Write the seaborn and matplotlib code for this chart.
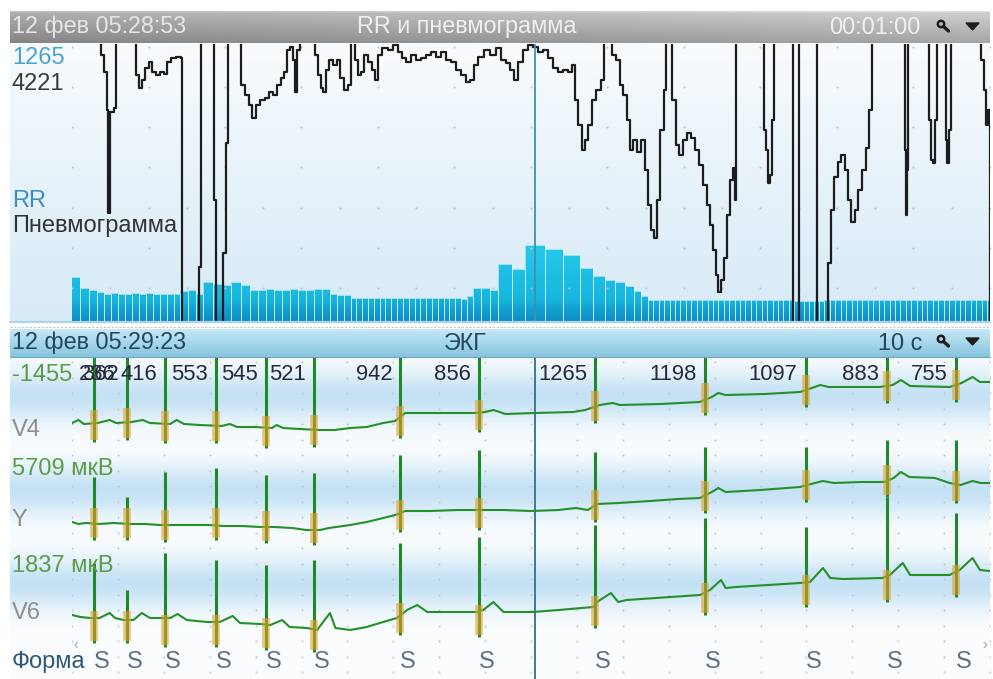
import numpy as np
import matplotlib
matplotlib.use("Agg")
import matplotlib.pyplot as plt
import matplotlib.transforms as mtransforms
from matplotlib.colors import LinearSegmentedColormap, to_rgb
from matplotlib.patches import Circle, Polygon, PathPatch
from matplotlib.path import Path
import seaborn as sns

sns.set_theme(style="white")
plt.rcParams["font.family"] = ["Liberation Sans", "DejaVu Sans"]

# ---------------------------------------------------------------- data
# RR tachogram of the one-minute window, ms (each bar is as wide as its interval)
TACHO_START_S = -0.18
tacho_rr_ms = [
    725, 540, 520, 480,
    452, 458, 455, 450, 457, 455, 460, 452, 455, 456, 455,
    506, 510, 455, 641, 620,
    600, 640, 600,
    523, 520, 525, 523, 522, 526, 523, 520, 524, 524,
    445, 440, 435,
    380, 378, 382, 380, 376, 380, 384, 380, 378, 380,
    381, 379, 380, 377, 383, 380, 379, 381, 383,
    362, 416,
    553, 545, 521, 942, 856, 1265, 1198, 1097, 883, 755, 675, 641, 573, 506, 422,
    354, 352, 356, 354, 355, 353, 354, 356, 352, 354, 355, 354, 353, 356,
    354, 352, 355, 354, 356, 353, 354, 355, 352, 354, 356, 354, 353,
    332, 328, 330, 331, 329, 330,
    354, 355, 353, 354, 356, 352, 354, 355, 354, 353, 356, 354, 352, 355,
    354, 356, 353, 354, 355, 352, 354, 356, 354, 353, 355, 354, 352, 356,
    354, 355, 353, 354,
]

# pneumogram, sampled at PNEUMO_HZ (sample index, amplitude in a.u.)
PNEUMO_HZ = 15.3
pneumo_idx = [
    0, 27, 29, 32, 35, 36, 38, 42, 44, 64, 67, 70, 73, 77, 80, 84, 88, 92, 95,
    99, 104, 109, 110, 127, 129, 142, 144, 151, 154, 156, 169, 173, 177, 180,
    184, 188, 193, 197, 201, 205, 209, 212, 215, 218, 221, 223, 225, 228, 243,
    246, 249, 251, 254, 257, 261, 265, 268, 272, 276, 279, 283, 286, 289, 292,
    296, 300, 303, 306, 310, 316, 321, 326, 330, 334, 339, 344, 349, 354, 359,
    364, 369, 374, 379, 384, 389, 394, 398, 402, 406, 412, 418, 424, 429, 434,
    438, 442, 446, 451, 456, 461, 466, 471, 476, 481, 486, 491, 496, 500, 503,
    506, 510, 513, 516, 520, 524, 529, 532, 540, 544, 548, 551, 555, 558, 561,
    565, 569, 573, 576, 579, 582, 585, 588, 592, 594, 600, 604, 607, 611, 615,
    619, 623, 627, 631, 635, 638, 641, 644, 646, 649, 652, 655, 658, 661, 663,
    664, 692, 694, 696, 698, 700, 702, 721, 727, 745, 756, 759, 762, 766, 769,
    773, 776, 779, 783, 786, 790, 794, 797, 800, 833, 834, 835, 836, 857, 859,
    861, 863, 865, 874, 875, 877, 879, 909, 912, 914, 916, 918,
]
pneumo_val = [
    300, 300, 266, 249, 211, 108, 209, 213, 300, 246, 233, 241, 253, 259, 249,
    246, 249, 247, 259, 263, 264, 263, -5, 54, 300, 121, -5, 68, 178, 300, 236,
    226, 216, 203, 216, 221, 223, 229, 226, 236, 243, 249, 271, 274, 261, 229,
    271, 300, 266, 246, 233, 229, 251, 261, 256, 261, 243, 231, 236, 300, 261,
    246, 249, 266, 259, 251, 241, 266, 273, 271, 276, 269, 263, 259, 266, 261,
    263, 266, 269, 264, 269, 261, 259, 251, 246, 239, 241, 256, 264, 271, 266,
    273, 261, 258, 251, 241, 259, 271, 276, 274, 269, 271, 263, 253, 249, 251,
    249, 256, 221, 196, 171, 181, 196, 221, 231, 241, 300, 266, 261, 236, 226,
    201, 171, 181, 169, 181, 151, 116, 91, 83, 121, 191, 231, 300, 221, 176,
    166, 181, 188, 183, 171, 156, 136, 116, 96, 71, 46, 29, 41, 63, 106, 141,
    153, 121, 300, 191, 171, 138, 146, 201, 300, -5, 300, -5, 58, 111, 144, 159,
    166, 151, 121, 99, 111, 131, 151, 173, 211, 300, 171, 106, 151, 300, 201,
    161, 158, 201, 300, 181, 158, 191, 300, 261, 231, 196, 211, -5,
]

# ECG: RR intervals (ms) that place each beat in the 10 s window
ecg_rr_ms = [236, 362, 416, 553, 545, 521, 942, 856, 1265, 1198, 1097, 883, 755]

# lead baselines (time s, amplitude a.u.)
v4_t = [0.00, 0.07, 0.13, 0.28, 0.41, 0.48, 0.65, 0.77, 0.85, 1.07, 1.14, 1.22,
        1.39, 1.63, 1.72, 1.80, 1.99, 2.18, 2.23, 2.30, 2.48, 2.70, 2.86, 3.03,
        3.21, 3.39, 3.52, 3.63, 4.01, 4.39, 4.50, 4.59, 4.66, 4.72, 5.04, 5.46,
        5.59, 5.75, 5.89, 5.97, 6.41, 6.84, 6.97, 7.04, 7.12, 7.55, 7.93, 8.06,
        8.15, 8.24, 8.80, 8.94, 9.03, 9.13, 9.56, 9.69, 9.81, 9.89, 10.0]
v4_v = [2, 5, 1, 2, 5, 2, 3, 5, 2, 1, 5, 1,
        0, -1, 1, -2, -2, -3, 0, -3, -4, -5, -5, -3,
        -2, 2, 4, 12, 12, 12, 13, 15, 13, 11, 12, 13,
        15, 20, 22, 20, 21, 23, 28, 32, 30, 31, 33, 37,
        40, 38, 38, 40, 45, 39, 38, 42, 48, 43, 43]

y_t = [0.00, 0.07, 0.15, 0.30, 0.45, 0.65, 0.80, 0.95, 1.10, 1.30, 1.50, 1.65,
       1.85, 2.05, 2.20, 2.40, 2.55, 2.70, 2.80, 3.03, 3.21, 3.39, 3.52, 3.63,
       3.90, 4.20, 4.43, 4.70, 5.00, 5.30, 5.49, 5.62, 5.72, 5.95, 6.30, 6.60,
       6.84, 6.97, 7.04, 7.12, 7.50, 7.93, 8.05, 8.18, 8.30, 8.60, 8.85, 8.95,
       9.03, 9.12, 9.40, 9.56, 9.68, 9.81, 9.90, 10.0]
y_v = [0, -2, -1, -2, -1, -2, -2, -3, -3, -3, -3, -4,
       -4, -5, -5, -6, -8, -8, -6, -3, 0, 4, 7, 11,
       11, 12, 12, 12, 11, 12, 14, 12, 18, 19, 21, 23,
       24, 30, 34, 30, 32, 35, 38, 41, 39, 40, 40, 44,
       50, 45, 44, 39, 37, 41, 39, 39]

v6_t = [0.00, 0.09, 0.20, 0.30, 0.41, 0.47, 0.56, 0.67, 0.76, 0.85, 0.96, 1.07,
        1.15, 1.25, 1.47, 1.61, 1.75, 1.83, 2.05, 2.16, 2.29, 2.37, 2.56, 2.67,
        2.81, 2.87, 3.03, 3.21, 3.39, 3.54, 3.65, 3.76, 3.87, 4.12, 4.41, 4.48,
        4.59, 4.70, 5.02, 5.30, 5.68, 5.72, 5.87, 5.95, 6.04, 6.84, 6.95, 7.07,
        7.12, 7.23, 7.93, 8.04, 8.18, 8.26, 8.40, 8.83, 8.91, 9.05, 9.13, 9.56,
        9.67, 9.81, 9.89, 10.0]
v6_v = [2, 0, -1, -1, 4, -1, -3, -3, 4, -1, -1, -1,
        3, -3, -5, -5, 1, -6, -7, -8, -3, -10, -11, -13,
        4, -11, -13, -10, -5, -1, 7, 12, 5, 5, 5, 7,
        15, 5, 5, 7, 10, 15, 24, 15, 17, 22, 27, 37,
        29, 30, 34, 35, 49, 39, 38, 39, 42, 54, 42, 42,
        47, 59, 47, 46]

# QRS extremes per beat (a.u. relative to each lead's zero)
v4_top = [85, 82, 86, 84, 83, 84, 90, 92, 95, 100, 100, 105, 105]
v4_bottom = [-17, -15, -18, -18, -23, -22, -13, -7, 2, 10, 18, 22, 23]
y_top = [45, 25, 50, 54, 47, 49, 67, 72, 70, 75, 75, 82, 82]
y_bottom = [-18, -18, -20, -18, -21, -23, -10, -8, 0, 9, 20, 25, 19]
v6_top = [54, 27, 64, 57, 52, 57, 74, 80, 92, 99, 90, 120, 104]
v6_bottom = [-26, -26, -30, -30, -33, -35, -18, -20, -11, 2, 10, 15, 20]

beat_forms = ["S"] * len(ecg_rr_ms)

# ---------------------------------------------------------------- layout
W, H = 993, 679
fig = plt.figure(figsize=(W / 100, H / 100), dpi=100)
fig.patch.set_facecolor("white")


def px_axes(x0, y0, x1, y1, z=0):
    ax = fig.add_axes([x0 / W, 1 - y1 / H, (x1 - x0) / W, (y1 - y0) / H], zorder=z)
    ax.set_axis_off()
    ax.patch.set_alpha(0)
    return ax


def paint(ax, rgb):
    ax.imshow(np.clip(rgb, 0, 1), aspect="auto", extent=(0, 1, 0, 1),
              origin="upper", interpolation="bilinear")
    ax.set_xlim(0, 1)
    ax.set_ylim(0, 1)


def vertical(c_top, c_bottom, n=128, m=4):
    a, b = np.array(to_rgb(c_top)), np.array(to_rgb(c_bottom))
    f = np.linspace(0, 1, n)[:, None]
    rows = a[None, :] * (1 - f) + b[None, :] * f
    return np.repeat(rows[:, None, :], m, axis=1)


# header of the tachogram / pneumogram pane
hdr1 = px_axes(10, 11, 990, 43, 1)
fv = np.linspace(0, 1, 64)[:, None]
fh = np.linspace(0, 1, 256)[None, :]
g = 0.69 - 0.17 * fv + 0.13 * fh
g[:3] += 0.06
paint(hdr1, np.dstack([g, g, g]))

# pane backgrounds
paint(px_axes(10, 43, 990, 322, 1), vertical("#f8fbfd", "#d6eaf6"))
paint(px_axes(10, 329, 990, 357, 1), vertical("#c6e9f7", "#86c4de"))

yy = np.arange(357, 679)
w = np.zeros(len(yy))
for c in (396, 490, 583):
    w += np.exp(-0.5 * ((yy - c) / 18.0) ** 2)
w = np.clip(w, 0, 1)[:, None]
rows = np.array(to_rgb("#fbfdfe"))[None, :] * (1 - w) + np.array(to_rgb("#c5e2f5"))[None, :] * w
paint(px_axes(10, 357, 990, 679, 1), np.repeat(rows[:, None, :], 4, axis=1))

# ---------------------------------------------------------------- top pane
ax_bar = px_axes(72, 44, 990, 321, 5)
edges = TACHO_START_S + np.concatenate([[0], np.cumsum(tacho_rr_ms)]) / 1000.0
bars = ax_bar.bar(edges[:-1], tacho_rr_ms, width=np.diff(edges), align="edge",
                  color="none", edgecolor="#d2f2fb", linewidth=0.5, zorder=2)
clip = Path.make_compound_path(*[p.get_path().transformed(p.get_patch_transform())
                                 for p in bars])
clip_patch = PathPatch(clip, transform=ax_bar.transData, facecolor="none", edgecolor="none")
ax_bar.add_patch(clip_patch)
bar_cmap = LinearSegmentedColormap.from_list(
    "rr", [(0, "#0e8cc4"), (0.08, "#17b6df"), (0.28, "#26caea"), (1, "#55def4")])
im = ax_bar.imshow(np.linspace(0, 1, 256)[:, None], cmap=bar_cmap, aspect="auto",
                   extent=(-1, 61, 0, 4600), origin="lower", zorder=1)
im.set_clip_path(clip_patch)
ax_bar.set_xlim(0, 60)
ax_bar.set_ylim(0, 4600)
ax_bar.set_axis_off()

ax_pn = ax_bar.twinx()
ax_pn.set_axis_off()
ax_pn.patch.set_alpha(0)
# dotted grid
for row, step in ((274, 5), (234, 5), (194, 5), (154, 5), (113, 2.5), (73, 5), (33, 2.5)):
    gx = np.arange(0, 60.01, step)
    ax_pn.scatter(gx, np.full(len(gx), row), s=2.2, color="#b9c5cd", lw=0, zorder=1)
sns.lineplot(x=np.array(pneumo_idx) / PNEUMO_HZ, y=pneumo_val, ax=ax_pn,
             estimator=None, sort=False, color="#1d1d1d", linewidth=1.6,
             drawstyle="steps-post", zorder=3)
ax_pn.axvline(30.26, color="#3e92ad", lw=1.3, zorder=4)
ax_pn.set_xlim(0, 60)
ax_pn.set_ylim(0, 277)
ax_pn.set_axis_off()

# ---------------------------------------------------------------- ECG pane
ax_ecg = px_axes(72, 357, 990, 679, 5)
beat_t = np.cumsum(ecg_rr_ms) / 1000.0

gx, gy = np.meshgrid(np.arange(0, 10.01, 0.5), np.arange(317, 0, -15.5))
ax_ecg.scatter(gx.ravel(), gy.ravel(), s=2.0, color="#bcc7cf", lw=0, zorder=1)

leads = [
    (254, v4_t, v4_v, v4_top, v4_bottom),
    (157, y_t, y_v, y_top, y_bottom),
    (62, v6_t, v6_v, v6_top, v6_bottom),
]
for off, t, v, top, bot in leads:
    sns.lineplot(x=t, y=np.array(v) + off, ax=ax_ecg, estimator=None, sort=False,
                 color="#23902a", linewidth=1.5, zorder=3)
    ax_ecg.vlines(beat_t, np.array(bot) + off, np.array(top) + off,
                  color="#1f8a27", lw=2.2, zorder=4)
    ax_ecg.vlines(beat_t, np.array(bot) + off + 2, np.array(bot) + off + 32,
                  color="#e2a02a", lw=5.5, alpha=0.6, zorder=5)
ax_ecg.axvline(5.04, color="#2f7191", lw=1.3, zorder=6)
ax_ecg.set_xlim(0, 10)
ax_ecg.set_ylim(0, 322)
ax_ecg.set_axis_off()

# ---------------------------------------------------------------- overlay: frames, text, icons
ov = fig.add_axes([0, 0, 1, 1], zorder=20)
ov.set_xlim(0, W)
ov.set_ylim(H, 0)
ov.set_axis_off()
ov.patch.set_alpha(0)

ov.plot([10, 990], [322, 322], color="#aad4e8", lw=1.6)
ov.plot([10, 990], [326.5, 326.5], color="#c4c8cc", lw=0.8, ls=(0, (2, 1.5)))
ov.plot([10, 990], [356.5, 356.5], color="#6fa9c4", lw=0.8)

FS_HDR = 16.8
ov.text(12, 27, "12 фев 05:28:53", color="#e6e6e6", fontsize=FS_HDR, va="center")
ov.text(467, 27, "RR и пневмограмма", color="#f0f0f0", fontsize=FS_HDR, va="center", ha="center")
ov.text(921, 27, "00:01:00", color="#f0f0f0", fontsize=FS_HDR, va="center", ha="right")
ov.text(12, 343, "12 фев 05:29:23", color="#24455c", fontsize=FS_HDR, va="center")
ov.text(465, 343, "ЭКГ", color="#24455c", fontsize=FS_HDR, va="center", ha="center")
ov.text(922, 343, "10 с", color="#24455c", fontsize=FS_HDR, va="center", ha="right")

for cy in (26, 341):
    ov.add_patch(Circle((941, cy - 2), 3.2, fill=False, lw=1.8, color="#1c1c1c"))
    ov.plot([943.5, 948.5], [cy + 0.5, cy + 5], color="#1c1c1c", lw=2.4, solid_capstyle="round")
    ov.add_patch(Polygon([(966, cy - 3), (979, cy - 3), (972.5, cy + 4)], closed=True,
                         color="#1c1c1c"))

FS_LAB = 17
ov.text(12, 58, "1265", color="#47a5d2", fontsize=FS_LAB, va="center")
ov.text(12, 84, "4221", color="#3a3a3a", fontsize=FS_LAB, va="center")
ov.text(12, 201, "RR", color="#3c8dc0", fontsize=FS_LAB, va="center")
ov.text(12, 226, "Пневмограмма", color="#333333", fontsize=FS_LAB, va="center")

ov.text(12, 375, "-1455", color="#5a9d48", fontsize=FS_LAB, va="center")
ov.text(12, 430, "V4", color="#8e8e8e", fontsize=FS_LAB, va="center")
ov.text(12, 469, "5709 мкВ", color="#5a9d48", fontsize=FS_LAB, va="center")
ov.text(12, 520, "Y", color="#8e8e8e", fontsize=FS_LAB, va="center")
ov.text(12, 566, "1837 мкВ", color="#5a9d48", fontsize=FS_LAB, va="center")
ov.text(12, 613, "V6", color="#8e8e8e", fontsize=FS_LAB, va="center")
ov.text(12, 662, "Форма", color="#2e5878", fontsize=FS_LAB, va="center")
ov.text(76, 645, "‹", color="#9aa6b0", fontsize=10, va="center", ha="center")
ov.text(985, 645, "›", color="#9aa6b0", fontsize=10, va="center", ha="center")

mixed = mtransforms.blended_transform_factory(ax_ecg.transData, ov.transData)
for i, (t, rr) in enumerate(zip(beat_t, ecg_rr_ms)):
    if i == 0:
        tr = mtransforms.offset_copy(mixed, fig=fig, x=-15, y=0, units="dots")
        ov.text(t, 375, str(rr), transform=tr, color="#262a3a", fontsize=15.8,
                va="center", ha="left")
    else:
        tr = mtransforms.offset_copy(mixed, fig=fig, x=-8, y=0, units="dots")
        ov.text(t, 375, str(rr), transform=tr, color="#262a3a", fontsize=15.8,
                va="center", ha="right")
for t, form in zip(beat_t, beat_forms):
    tr = mtransforms.offset_copy(mixed, fig=fig, x=8, y=0, units="dots")
    ov.text(t, 662, form, transform=tr, color="#5d7084", fontsize=FS_LAB,
            va="center", ha="center")

fig.savefig("out.png", dpi=100)
